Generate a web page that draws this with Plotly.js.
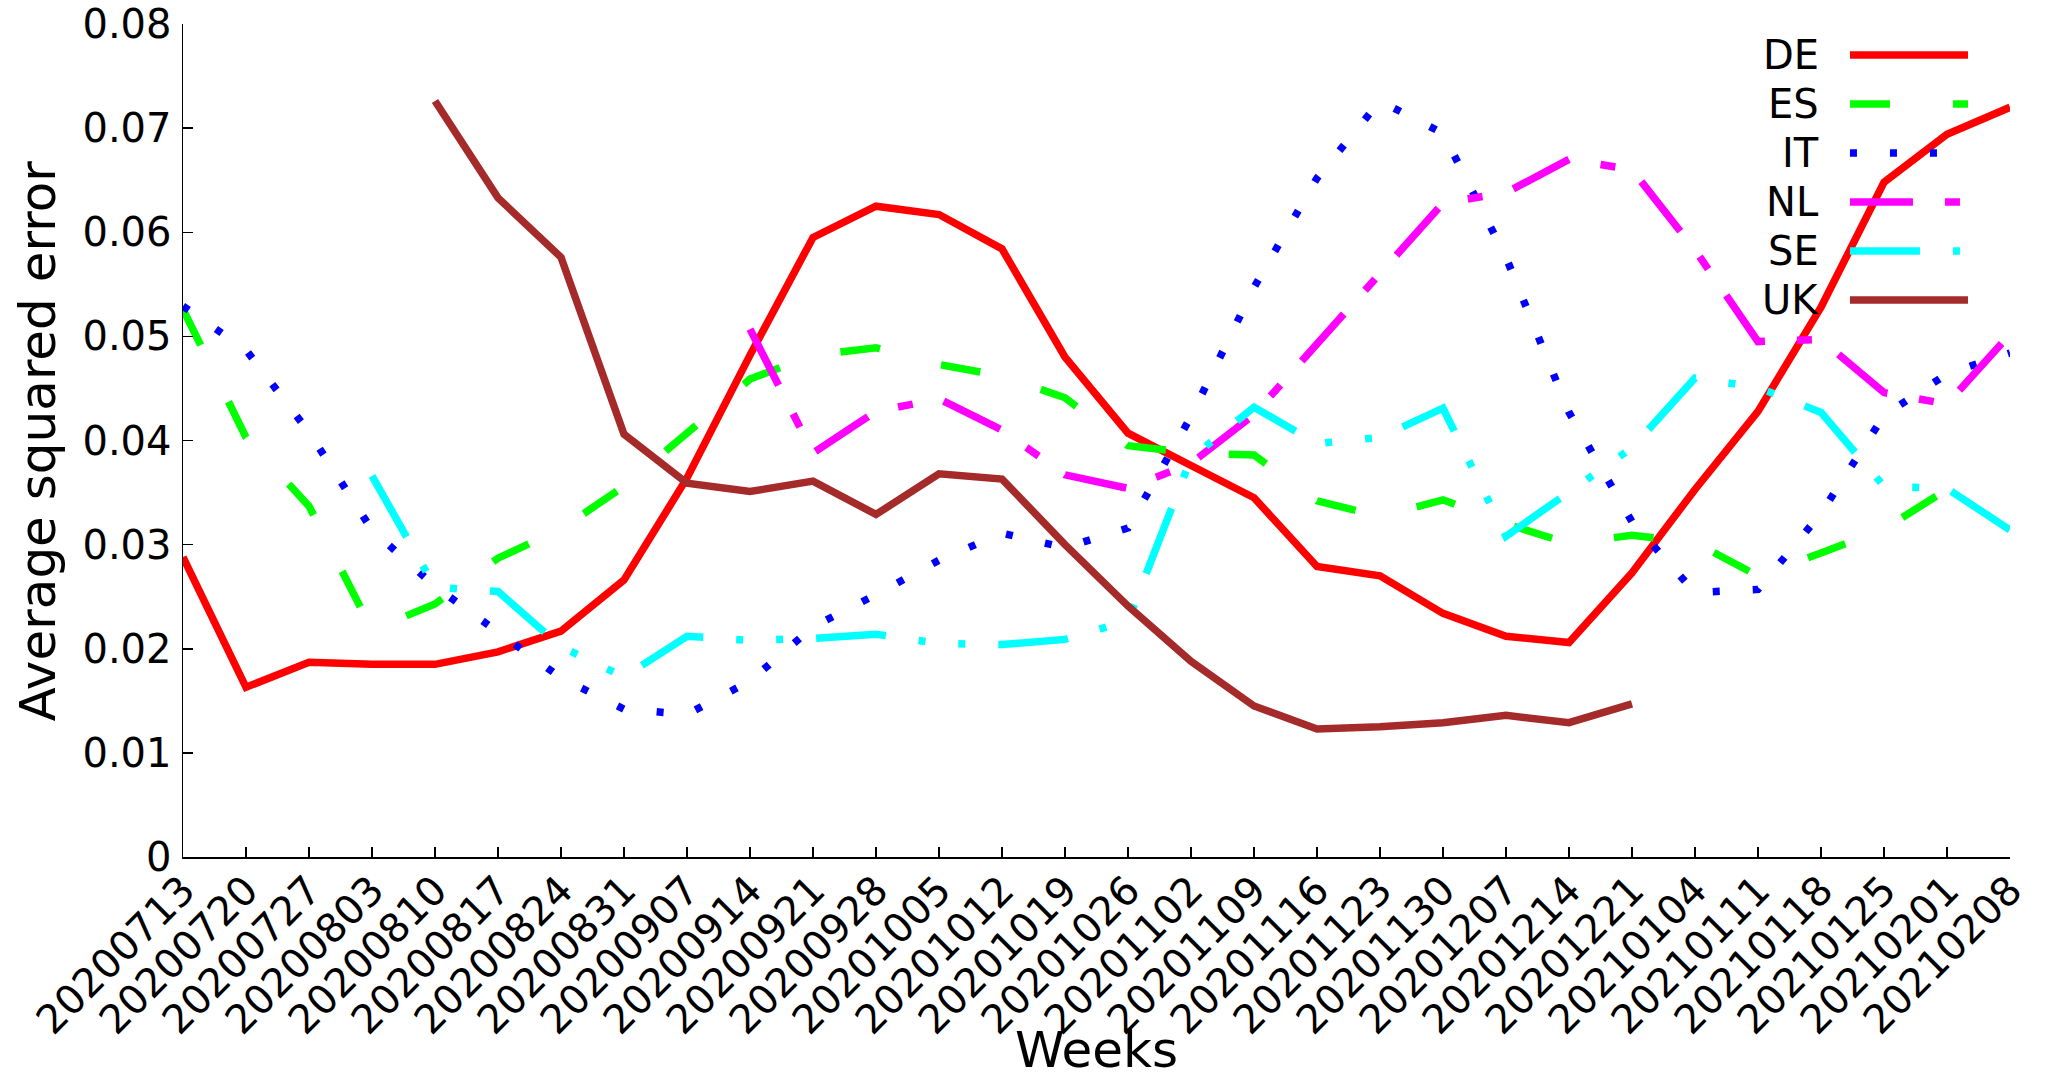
<!DOCTYPE html>
<html>
<head>
<meta charset="utf-8">
<script src="https://cdn.plot.ly/plotly-3.0.1.min.js"></script>
<style>
  html, body { margin: 0; padding: 0; background: #ffffff; }
  #chart { width: 2048px; height: 1080px; }
</style>
</head>
<body>
<div id="chart"></div>
<script>
// weeks on the x axis
const weeks = ['20200713', '20200720', '20200727', '20200803', '20200810', '20200817',
    '20200824', '20200831', '20200907', '20200914', '20200921', '20200928', '20201005',
    '20201012', '20201019', '20201026', '20201102', '20201109', '20201116', '20201123',
    '20201130', '20201207', '20201214', '20201221', '20210104', '20210111', '20210118',
    '20210125', '20210201', '20210208'];

const deValues = [0.0288, 0.0163, 0.0187, 0.0185, 0.0185, 0.0197, 0.0217, 0.0266, 0.0364, 0.0482,
    0.0595, 0.0625, 0.0617, 0.0584, 0.0480, 0.0407, 0.0376, 0.0345, 0.0279, 0.0270,
    0.0234, 0.0212, 0.0206, 0.0273, 0.0353, 0.0428, 0.0528, 0.0648, 0.0694, 0.0720];

const esValues = [0.0526, 0.0403, 0.0337, 0.0218, 0.0243, 0.0287, 0.0315, 0.0356, 0.0407, 0.0459,
    0.0482, 0.0489, 0.0473, 0.0462, 0.0441, 0.0395, 0.0388, 0.0386, 0.0342, 0.0327,
    0.0343, 0.0320, 0.0301, 0.0309, 0.0302, 0.0270, 0.0292, 0.0315, 0.0353, null];

const itValues = [0.0529, 0.0487, 0.0408, 0.0314, 0.0260, 0.0216, 0.0172, 0.0142, 0.0137, 0.0169,
    0.0221, 0.0252, 0.0285, 0.0311, 0.0297, 0.0316, 0.0423, 0.0547, 0.0652, 0.0726,
    0.0695, 0.0576, 0.0427, 0.0322, 0.0254, 0.0257, 0.0330, 0.0424, 0.0464, 0.0484];

const nlValues = [null, null, null, null, null, null, null, null, null, 0.0507,
    0.0388, 0.0428, 0.0440, 0.0410, 0.0367, 0.0354, 0.0378, 0.0425, 0.0493, 0.0561,
    0.0628, 0.0638, 0.0670, 0.0660, 0.0583, 0.0495, 0.0497, 0.0446, 0.0435, 0.0502];

const seValues = [null, null, null, 0.0366, 0.0259, 0.0255, 0.0202, 0.0173, 0.0212, 0.0208,
    0.0210, 0.0214, 0.0205, 0.0204, 0.0209, 0.0227, 0.0383, 0.0432, 0.0397, 0.0403,
    0.0431, 0.0308, 0.0351, 0.0393, 0.0460, 0.0451, 0.0427, 0.0356, 0.0354, 0.0314];

const ukValues = [null, null, null, null, 0.0726, 0.0633, 0.0576, 0.0406, 0.0359, 0.0351,
    0.0361, 0.0329, 0.0368, 0.0363, 0.0300, 0.0241, 0.0188, 0.0145, 0.0123, 0.0125,
    0.0129, 0.0136, 0.0129, 0.0147, null, null, null, null, null, null];

const yTicks = [0, 0.01, 0.02, 0.03, 0.04, 0.05, 0.06, 0.07, 0.08];

const series = [
    { name: 'DE', values: deValues, color: '#ff0000', dash: 'solid' },
    { name: 'ES', values: esValues, color: '#00ff00', dash: '40px,63px' },
    { name: 'IT', values: itValues, color: '#0000ff', dash: '7px,33px' },
    { name: 'NL', values: nlValues, color: '#ff00ff', dash: '63px,32px,15px,32px' },
    { name: 'SE', values: seValues, color: '#00ffff', dash: '70px,33px,7px,33px,7px,33px' },
    { name: 'UK', values: ukValues, color: '#a52a2a', dash: 'solid' }
];

const FONT = 'DejaVu Sans, Liberation Sans, sans-serif';
const LINE_W = 7.5;

const traces = series.map(s => ({
    x: weeks,
    y: s.values,
    name: s.name,
    type: 'scatter',
    mode: 'lines',
    connectgaps: false,
    line: { color: s.color, width: LINE_W, dash: s.dash },
    showlegend: false
}));

// gnuplot style key: label on the left, line sample on the right
const annotations = [];
const shapes = [];
series.forEach((s, k) => {
    const yy = 0.9628 - k * 0.0588;
    annotations.push({
        xref: 'paper', yref: 'paper', x: 0.8966, y: yy,
        xanchor: 'right', yanchor: 'middle', showarrow: false,
        text: s.name, font: { family: FONT, size: 40, color: '#000000' }
    });
    shapes.push({
        type: 'line', xref: 'paper', yref: 'paper',
        x0: 0.9124, x1: 0.9770, y0: yy, y1: yy,
        line: { color: s.color, width: LINE_W, dash: s.dash }
    });
});

// axis titles as annotations so they sit where gnuplot put them
annotations.push({
    xref: 'paper', yref: 'paper', x: 0.5, y: -0.2677,
    xanchor: 'center', yanchor: 'bottom', showarrow: false, borderpad: 0,
    text: 'Weeks', font: { family: FONT, size: 50, color: '#000000' }
});
annotations.push({
    xref: 'paper', yref: 'paper', x: -0.0794, y: 0.5,
    xanchor: 'center', yanchor: 'middle', showarrow: false, textangle: -90,
    text: 'Average squared error', font: { family: FONT, size: 50, color: '#000000' }
});

const layout = {
    width: 2048,
    height: 1080,
    paper_bgcolor: '#ffffff',
    plot_bgcolor: '#ffffff',
    font: { family: FONT, color: '#000000', size: 40 },
    margin: { l: 183, r: 38, t: 24, b: 223 },
    showlegend: false,
    xaxis: {
        type: 'category',
        range: [0, weeks.length - 1],
        autorange: false,
        showline: true, linecolor: '#000000', linewidth: 1.5,
        ticks: 'inside', ticklen: 10, tickwidth: 1.5, tickcolor: '#000000',
        showgrid: false, zeroline: false,
        tickangle: -45,
        ticklabelstandoff: -8,
        ticklabeloverflow: 'allow',
        tickfont: { family: FONT, size: 40, color: '#000000' }
    },
    yaxis: {
        range: [0, 0.08],
        autorange: false,
        tickvals: yTicks,
        ticktext: yTicks.map(v => v === 0 ? '0' : v.toFixed(2)),
        showline: true, linecolor: '#000000', linewidth: 1.5,
        ticks: 'inside', ticklen: 10, tickwidth: 1.5, tickcolor: '#000000',
        showgrid: false, zeroline: false,
        ticklabelstandoff: 2,
        ticklabeloverflow: 'allow',
        tickfont: { family: FONT, size: 40, color: '#000000' }
    },
    annotations: annotations,
    shapes: shapes
};

Plotly.newPlot('chart', traces, layout, { displayModeBar: false, responsive: false, staticPlot: true });
</script>
</body>
</html>
